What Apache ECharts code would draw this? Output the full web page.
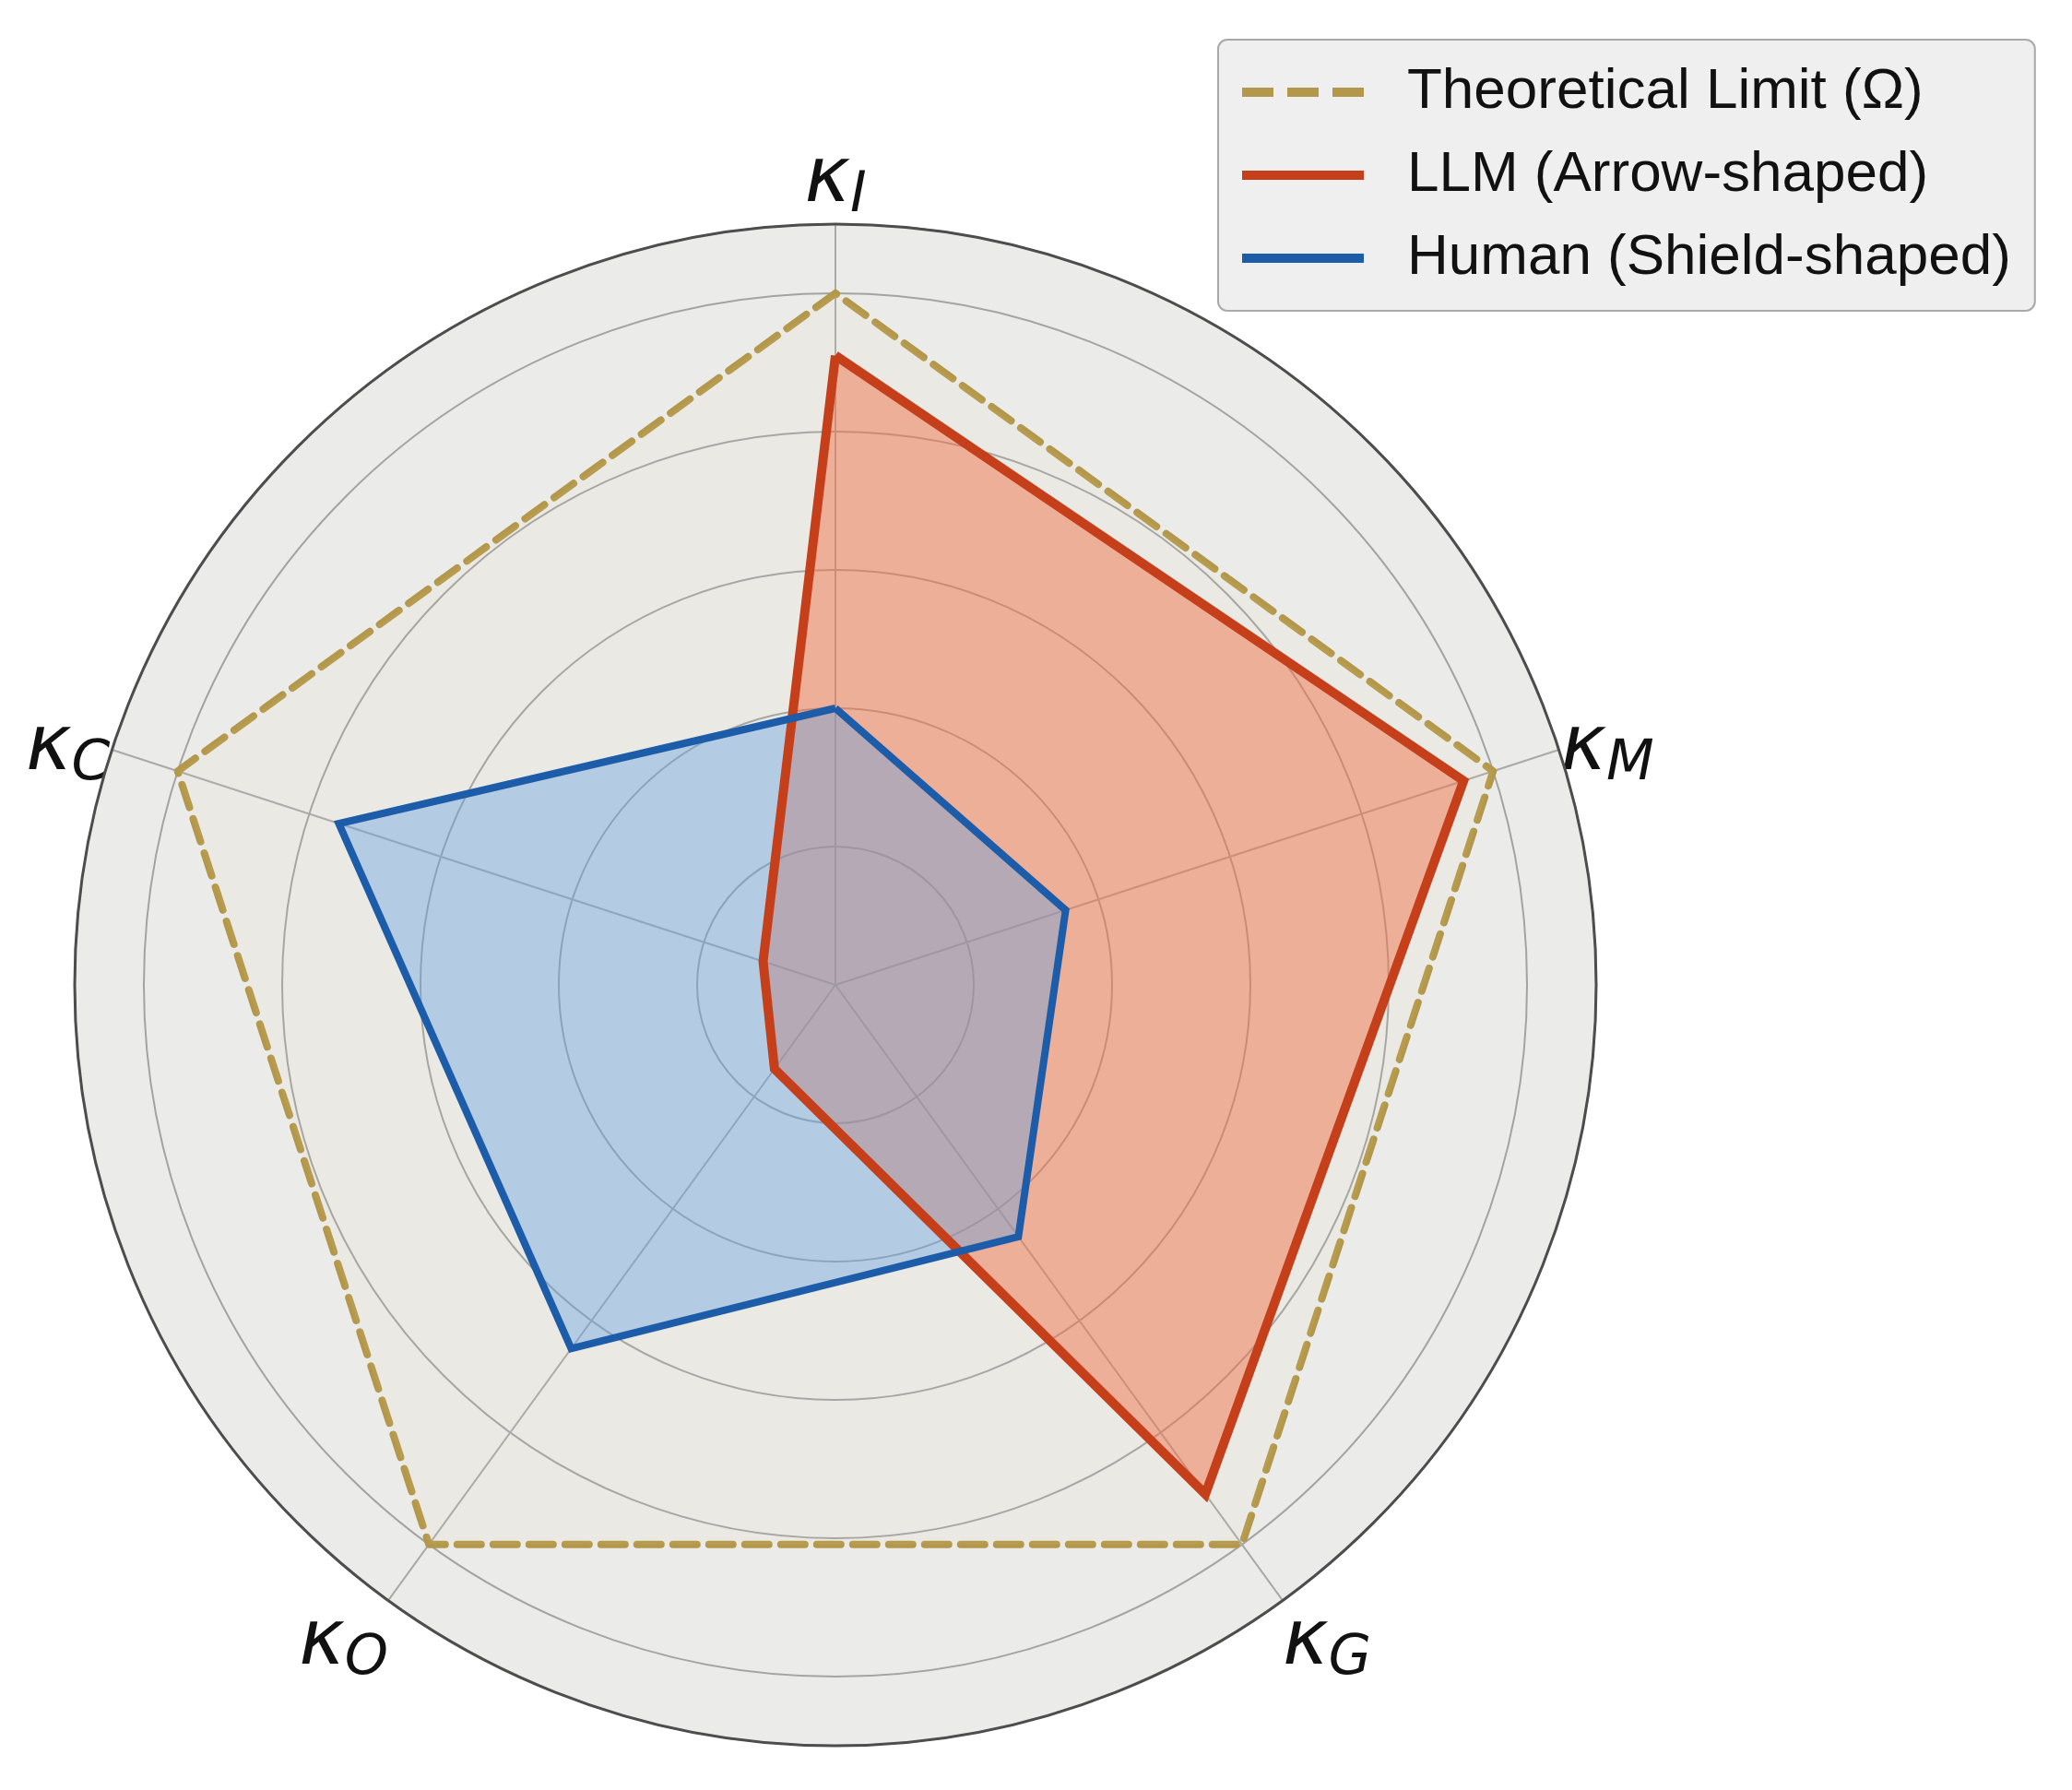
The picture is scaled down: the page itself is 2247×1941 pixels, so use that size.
<!DOCTYPE html>
<html><head><meta charset="utf-8">
<script src="https://cdn.jsdelivr.net/npm/echarts@6/dist/echarts.min.js"></script>
<style>html,body{margin:0;padding:0;background:#fff}#c{width:2247px;height:1941px}</style>
</head><body><div id="c"></div>
<script>
// ---- data (axes listed counterclockwise starting at the top) ----
const axisSymbol = 'κ';
const axisSubscripts = ['I', 'C', 'O', 'G', 'M'];
const limitValues = [1.0, 1.0, 1.0, 1.0, 1.0];
const llmValues = [0.91, 0.11, 0.15, 0.91, 0.955];
const humanValues = [0.40, 0.755, 0.65, 0.45, 0.35];
const seriesNames = ['Theoretical Limit (Ω)', 'LLM (Arrow-shaped)', 'Human (Shield-shaped)'];
const radiusMax = 1.1;
const ringStep = 0.2;

// ---- styling ----
const CENTER = [906, 1068];
const RADIUS = 825;
const limitColor = '#b3974a';
const llmLine = '#c63f1b';
const humanLine = '#1d5ca8';
const step = 360 / axisSubscripts.length;
// side labels (near horizontal) are placed by the radar, the others by the polar angle axis
function isSide(i) { return Math.abs(Math.sin((90 + i * step) * Math.PI / 180)) < 0.5; }
function labelText(i) { return '{k|' + axisSymbol + '}{s|' + axisSubscripts[i] + '}'; }
const labelRich = {
  k: {fontFamily: 'DejaVu Sans', fontStyle: 'italic', fontSize: 84, color: '#111'},
  s: {fontFamily: 'DejaVu Sans', fontStyle: 'italic', fontSize: 60, color: '#111', padding: [34, 0, 0, 0]}
};

const chart = echarts.init(document.getElementById('c'), null, {renderer: 'canvas'});
chart.setOption({
  backgroundColor: '#ffffff',
  animation: false,
  polar: {center: CENTER, radius: RADIUS},
  angleAxis: {
    type: 'value', min: 0, max: 360, interval: step, startAngle: 90, clockwise: false, z: 2,
    axisLine: {show: true, lineStyle: {color: '#4d4d4d', width: 3}},
    axisTick: {show: false},
    splitLine: {show: true, lineStyle: {color: '#a9a9a9', width: 2}},
    splitArea: {show: false},
    axisLabel: {
      show: true, margin: 0,
      formatter: function (v) {
        const i = Math.round(v / step);
        if (i >= axisSubscripts.length || isSide(i)) return '';
        return labelText(i);
      },
      rich: labelRich
    }
  },
  radiusAxis: {
    type: 'value', min: 0, max: radiusMax, interval: ringStep, z: 2,
    axisLine: {show: false}, axisTick: {show: false}, axisLabel: {show: false},
    splitLine: {show: true, lineStyle: {color: '#a3a3a3', width: 2}}
  },
  radar: {
    center: CENTER, radius: RADIUS, startAngle: 90, shape: 'circle', z: 0,
    indicator: axisSubscripts.map(s => ({name: s, min: 0, max: radiusMax})),
    nameGap: 2,
    axisName: {
      show: true,
      formatter: function (name) {
        const i = axisSubscripts.indexOf(name);
        return isSide(i) ? labelText(i) : '';
      },
      rich: labelRich
    },
    axisLine: {show: false}, splitLine: {show: false},
    splitArea: {show: true, areaStyle: {color: ['#ebebe9']}},
    axisTick: {show: false}, axisLabel: {show: false}
  },
  legend: {
    orient: 'vertical', left: 1321, top: 43, padding: [26, 26, 26, 26],
    itemGap: 28, itemWidth: 132, itemHeight: 10,
    backgroundColor: '#efefef', borderColor: '#a9a9a9', borderWidth: 2, borderRadius: 10,
    selectedMode: false,
    itemStyle: {borderWidth: 0},
    textStyle: {fontFamily: 'Liberation Sans', fontSize: 62, lineHeight: 62, color: '#111', padding: [0, 0, 0, 42]},
    data: [
      {name: seriesNames[0], icon: 'path://M0,0h34v10h-34z M49,0h34v10h-34z M98,0h34v10h-34z', itemStyle: {color: limitColor}},
      {name: seriesNames[1], icon: 'rect', itemStyle: {color: llmLine}},
      {name: seriesNames[2], icon: 'rect', itemStyle: {color: humanLine}}
    ]
  },
  series: [
    {
      type: 'radar', symbol: 'none', z: 3,
      data: [{value: limitValues, name: seriesNames[0],
        itemStyle: {color: limitColor},
        lineStyle: {color: limitColor, width: 8, type: [26, 13], cap: 'round'},
        areaStyle: {color: 'rgba(235,215,150,0.10)'}}]
    },
    {
      type: 'radar', symbol: 'none', z: 4,
      data: [
        {value: llmValues, name: seriesNames[1], itemStyle: {color: llmLine},
          lineStyle: {opacity: 0}, areaStyle: {color: 'rgba(242,112,72,0.68)'}},
        {value: humanValues, name: seriesNames[2], itemStyle: {color: humanLine},
          lineStyle: {opacity: 0}, areaStyle: {color: 'rgba(92,160,228,0.56)'}}
      ]
    },
    {
      type: 'radar', symbol: 'none', z: 5,
      data: [
        {value: llmValues, name: seriesNames[1], itemStyle: {color: llmLine},
          lineStyle: {color: llmLine, width: 10, join: 'miter'}},
        {value: humanValues, name: seriesNames[2], itemStyle: {color: humanLine},
          lineStyle: {color: humanLine, width: 8, join: 'miter'}}
      ]
    }
  ]
});
</script></body></html>
